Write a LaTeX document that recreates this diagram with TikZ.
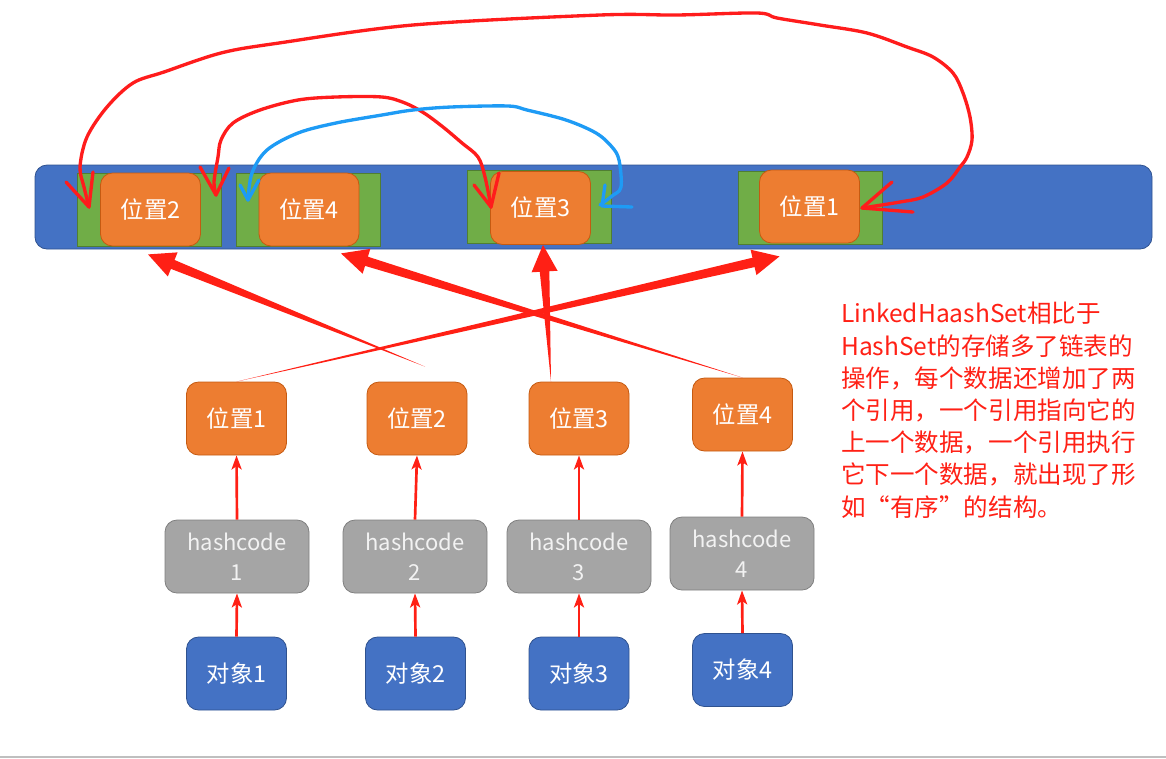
\documentclass[tikz,border=0pt]{standalone}
\usepackage{fontspec}
\newfontfamily\cjk{Noto Sans CJK SC}
\usetikzlibrary{calc,arrows.meta}

\definecolor{barblue}{HTML}{4472C4}
\definecolor{barline}{HTML}{2F528F}
\definecolor{slotgreen}{HTML}{70AD47}
\definecolor{slotline}{HTML}{507E32}
\definecolor{posorange}{HTML}{ED7D31}
\definecolor{posline}{HTML}{C55A11}
\definecolor{hashgray}{HTML}{A5A5A5}
\definecolor{hashline}{HTML}{7F7F7F}
\definecolor{linkred}{HTML}{FF2015}
\definecolor{penred}{HTML}{FF1C1C}
\definecolor{penblue}{HTML}{1E9BF5}

\tikzset{
  box/.style={rounded corners=9pt, line width=0.6pt, minimum width=75pt,
    minimum height=54.75pt, inner sep=0pt, text=white,
    font=\cjk\fontsize{17.5}{20}\selectfont},
  posbox/.style={box, fill=posorange, draw=posline},
  objbox/.style={box, fill=barblue, draw=barline},
  hashbox/.style={box, fill=hashgray, draw=hashline, minimum width=108pt,
    align=center, text=white!95!black, font=\cjk\fontsize{16.5}{22.5}\selectfont},
  slot/.style={fill=slotgreen, draw=slotline, line width=0.6pt,
    minimum width=108pt, minimum height=54.75pt, inner sep=0pt},
  uparrow/.style={draw=linkred, line width=2pt,
    -{Stealth[length=10.5pt,width=7.5pt,inset=2.5pt]}},
  pen/.style={line width=2.5pt, line cap=round, line join=round},
}

% tapered arrow: #1 = thin end, #2 = tip
\newcommand\taperarrow[2]{%
  \coordinate (hb) at ($(#2)!20pt!(#1)$);
  \fill[linkred] (#1) -- ($(hb)!3.6pt!90:(#2)$) -- ($(hb)!9.75pt!90:(#2)$)
    -- (#2) -- ($(hb)!9.75pt!-90:(#2)$) -- ($(hb)!3.6pt!-90:(#2)$) -- cycle;
}

\begin{document}
\begin{tikzpicture}[x=0.75pt,y=-0.75pt]
  \useasboundingbox (0,0) rectangle (1166,758);
  \draw[black!25, line width=1.2pt] (0,757) -- (1166,757);

  % the table
  \node[fill=barblue, draw=barline, line width=0.6pt, rounded corners=9pt,
    minimum width=837.75pt, minimum height=63pt] (bar) at (593.5,207) {};

  % slots with their entries
  \node[slot] (g2) at (149,209.5) {};
  \node[slot] (g4) at (308.5,209.5) {};
  \node[slot] (g3) at (539.5,206.5) {};
  \node[slot] (g1) at (810,208) {};
  \node[posbox] (t2) at (150.5,209.5) {位置2};
  \node[posbox] (t4) at (309,209.5) {位置4};
  \node[posbox] (t3) at (540.5,208) {位置3};
  \node[posbox] (t1) at (809.5,206.5) {位置1};

  % objects, hash codes, positions
  \node[posbox] (b1) at (236.5,418.5) {位置1};
  \node[posbox] (b2) at (417,418.5) {位置2};
  \node[posbox] (b3) at (579,418.5) {位置3};
  \node[posbox] (b4) at (742.5,414.5) {位置4};

  \node[hashbox] (h1) at (237,556.5) {hashcode\\1};
  \node[hashbox] (h2) at (415,556.5) {hashcode\\2};
  \node[hashbox] (h3) at (579,556.5) {hashcode\\3};
  \node[hashbox] (h4) at (742,553.5) {hashcode\\4};

  \node[objbox] (o1) at (236.5,673.5) {对象1};
  \node[objbox] (o2) at (415.5,673.5) {对象2};
  \node[objbox] (o3) at (579,673.5) {对象3};
  \node[objbox] (o4) at (742.5,670) {对象4};

  \foreach \i in {1,...,4}{
    \draw[uparrow] (o\i.north) -- (h\i.south);
    \draw[uparrow] (h\i.north) -- (b\i.south);
  }

  % positions into the table
  \coordinate (s2) at ($(b2.north)+(8,-15)$);
  \coordinate (s3) at ($(b3.north)+(-28,0)$);
  \coordinate (e1) at ($(t1.south)+(-30,13)$);
  \coordinate (e2) at ($(t2.south)+(-2.5,8)$);
  \coordinate (e3) at ($(t3.south)+(2.5,0)$);
  \coordinate (e4) at ($(t4.south)+(32,7)$);
  \taperarrow{b1.north}{e1}
  \taperarrow{s2}{e2}
  \taperarrow{s3}{e3}
  \taperarrow{b4.north}{e4}

  % links drawn by hand
  \draw[pen, penred] plot[smooth, tension=0.55] coordinates {(89,207) (84,187) (80,167)
    (87,137) (107,107) (133,83) (164,72) (221,53) (279,43) (413,25) (600,15) (677,15)
    (757,13) (777,18) (820,25) (867,33) (907,47) (933,57) (953,73) (963,93) (970,117)
    (972,140) (967,157) (960,167) (947,183) (923,197) (900,202) (862,208)};
  \draw[pen, penred] (66,182) -- (89,207) -- (93,172);
  \draw[pen, penred] (892,182) -- (862,208) -- (913,212);

  \draw[pen, penred] plot[smooth, tension=0.55] coordinates {(216,195) (214,182) (218,157)
    (221,140) (233,123) (260,110) (298,100) (336,97) (382,97) (405,103) (424,113)
    (443,127) (462,143) (478,157) (485,177) (491,207)};
  \draw[pen, penred] (200,167) -- (216,195) -- (229,168);
  \draw[pen, penred] (474,185) -- (491,207) -- (499,173);

  \draw[pen, penblue] plot[smooth, tension=0.55] coordinates {(248,200) (252,173) (267,150)
    (298,133) (336,123) (382,115) (413,110) (451,107) (508,106) (527,110) (566,120)
    (596,133) (612,147) (619,160) (621,187) (612,196) (600,205)};
  \draw[pen, penblue] (240,185) -- (248,200) -- (259,180);
  \draw[pen, penblue] (605,185) -- (602,206) -- (632,207);

  % note
  \node[anchor=north west, inner sep=0pt, align=left, text=linkred,
    font=\cjk\fontsize{18.4}{24.15}\selectfont] (note) at (841,302)
    {LinkedHaashSet相比于\\HashSet的存储多了链表的\\操作，每个数据还增加了两\\
     个引用，一个引用指向它的\\上一个数据，一个引用执行\\它下一个数据，就出现了形\\
     如“有序”的结构。};
\end{tikzpicture}
\end{document}
